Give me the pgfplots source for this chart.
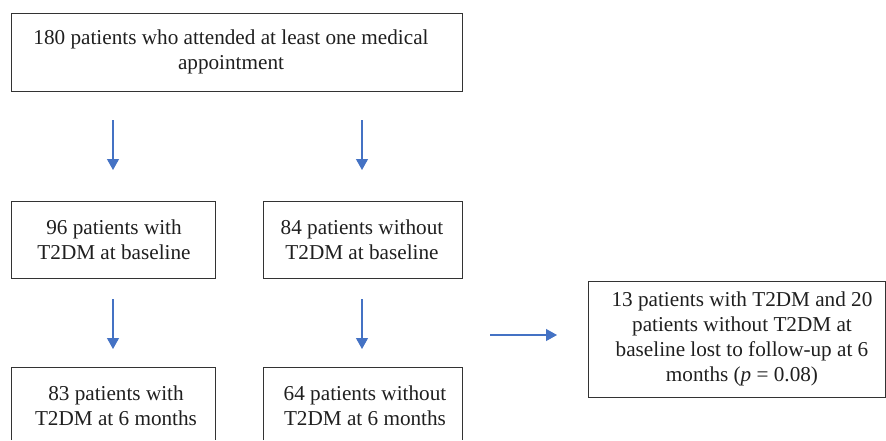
\documentclass[border=0pt]{standalone}
\usepackage{fontspec}
\setmainfont{Liberation Serif}
\usepackage{pgfplots}
\pgfplotsset{compat=1.18}
\usetikzlibrary{arrows.meta}
\definecolor{arrowblue}{HTML}{4472C4}
\definecolor{boxgray}{HTML}{333333}
\begin{document}
\begin{tikzpicture}
\begin{axis}[
  scale only axis, width=886pt, height=440pt,
  xmin=0, xmax=886, ymin=0, ymax=440, y dir=reverse,
  axis lines=none, ticks=none, clip=false,
]
% boxes
\addplot[boxgray, line width=1pt] coordinates {(11,13) (462,13) (462,91) (11,91) (11,13)};
\addplot[boxgray, line width=1pt] coordinates {(11,201) (215,201) (215,278) (11,278) (11,201)};
\addplot[boxgray, line width=1pt] coordinates {(263,201) (462,201) (462,278) (263,278) (263,201)};
\addplot[boxgray, line width=1pt] coordinates {(11,440) (11,367) (215,367) (215,440)};
\addplot[boxgray, line width=1pt] coordinates {(263,440) (263,367) (462,367) (462,440)};
\addplot[boxgray, line width=1pt] coordinates {(588,281) (885,281) (885,397) (588,397) (588,281)};
% arrows
\addplot[arrowblue, line width=1.2pt, -{Triangle[width=12pt,length=11pt]}] coordinates {(113,120) (113,170)};
\addplot[arrowblue, line width=1.2pt, -{Triangle[width=12pt,length=11pt]}] coordinates {(362,120) (362,170)};
\addplot[arrowblue, line width=1.2pt, -{Triangle[width=12pt,length=11pt]}] coordinates {(113,299) (113,349)};
\addplot[arrowblue, line width=1.2pt, -{Triangle[width=12pt,length=11pt]}] coordinates {(362,299) (362,349)};
\addplot[arrowblue, line width=1.2pt, -{Triangle[width=12pt,length=11pt]}] coordinates {(490,335) (557,335)};
% texts
\tikzset{txt/.style={align=center, inner sep=0pt, text=black!88, font=\fontsize{21.2}{25}\selectfont}}
\node[txt] at (axis cs:231,52) {180 patients who attended at least one medical\\appointment};
\node[txt] at (axis cs:114,239.5) {96 patients with\\T2DM at baseline};
\node[txt] at (axis cs:362,239.5) {84 patients without\\T2DM at baseline};
\node[txt] at (axis cs:116,405.5) {83 patients with\\T2DM at 6 months};
\node[txt] at (axis cs:365,405.5) {64 patients without\\T2DM at 6 months};
\node[txt] at (axis cs:742,339) {13 patients with T2DM and 20\\patients without T2DM at\\baseline lost to follow-up at 6\\months (\textit{p} = 0.08)};
\end{axis}
\pgfresetboundingbox
\path[use as bounding box] (current axis.south west) rectangle (current axis.north east);
\end{tikzpicture}
\end{document}
